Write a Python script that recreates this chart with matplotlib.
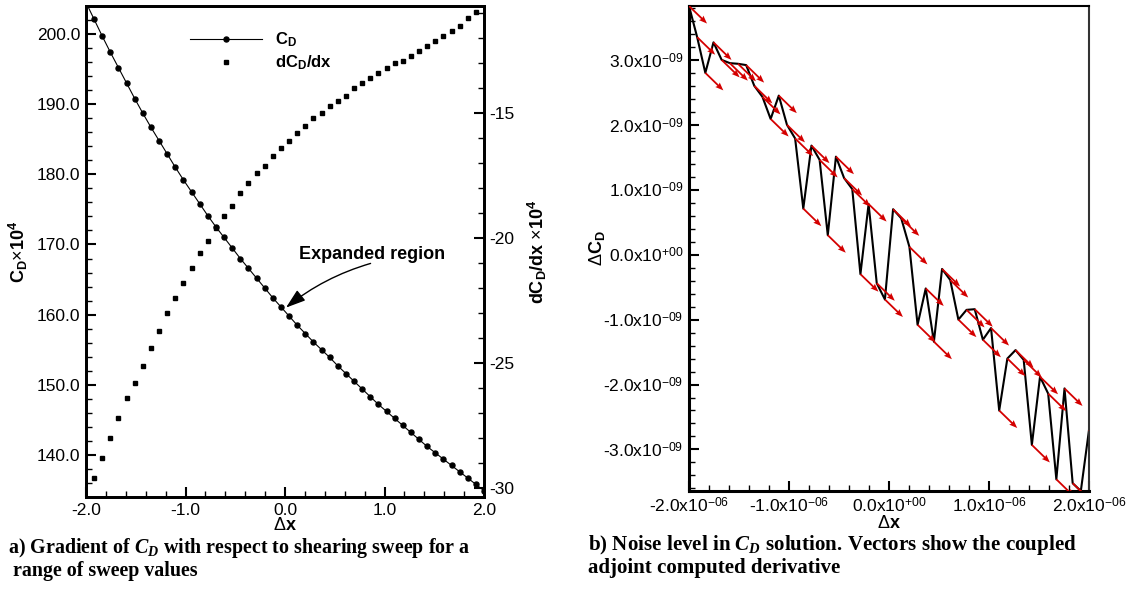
#!/usr/bin/env python3
"""
Drag sweep study: C_D and dC_D/dx over the shearing sweep range,
and the noise level of C_D near dx = 0 with adjoint derivative vectors.
"""

import numpy as np
import matplotlib
matplotlib.use('Agg')
import matplotlib.pyplot as plt
from matplotlib.ticker import MultipleLocator, FormatStrFormatter, FuncFormatter

plt.rcParams['font.family'] = 'Liberation Sans'
plt.rcParams['mathtext.fontset'] = 'custom'
plt.rcParams['mathtext.rm'] = 'Liberation Sans'
plt.rcParams['mathtext.sf'] = 'Liberation Sans'
plt.rcParams['mathtext.bf'] = 'Liberation Sans:bold'
plt.rcParams['mathtext.it'] = 'Liberation Serif:italic:bold'

W, H = 1128, 599

# Sweep values (50 evenly spaced samples)
dx_sweep = np.linspace(-2.0, 2.0, 50)

# C_D x 10^4
cd_sweep = [204.5, 202.1, 199.7, 197.4, 195.2, 193.0, 190.8, 188.7, 186.7, 184.8,
            182.9, 181.0, 179.2, 177.5, 175.8, 174.1, 172.5, 171.0, 169.5, 168.0,
            166.6, 165.2, 163.8, 162.4, 161.1, 159.8, 158.5, 157.3, 156.1, 155.0,
            153.9, 152.7, 151.6, 150.5, 149.4, 148.3, 147.2, 146.2, 145.2, 144.2,
            143.2, 142.2, 141.2, 140.3, 139.4, 138.5, 137.6, 136.7, 135.8, 134.9]

# dC_D/dx x 10^4
dcd_dx = [-30.5, -29.6, -28.8, -28.0, -27.2, -26.4, -25.8, -25.1, -24.4, -23.7,
          -23.0, -22.4, -21.8, -21.2, -20.6, -20.1, -19.6, -19.1, -18.7, -18.2,
          -17.8, -17.4, -17.1, -16.7, -16.4, -16.1, -15.8, -15.5, -15.2, -15.0,
          -14.7, -14.5, -14.3, -14.0, -13.8, -13.6, -13.4, -13.2, -13.0, -12.9,
          -12.7, -12.5, -12.3, -12.1, -11.9, -11.7, -11.5, -11.2, -10.95, -10.5]

# Expanded region around dx = 0
dx_noise = np.linspace(-2.0e-6, 2.0e-6, 50)

# Delta C_D, in units of 1e-9
dcd_noise = [3.83, 3.35, 2.80, 3.27, 3.00, 2.95, 2.94, 2.92, 2.60, 2.43,
             2.09, 2.45, 2.00, 1.79, 0.71, 1.68, 1.46, 0.30, 1.51, 1.18,
             1.01, -0.30, 0.78, -0.44, -0.69, 0.70, 0.56, 0.12, -1.08, -0.52,
             -1.34, -0.22, -0.39, -1.00, -0.85, -0.84, -1.31, -1.13, -2.40, -1.60,
             -1.47, -1.62, -2.93, -1.88, -2.14, -3.46, -2.06, -3.52, -3.64, -2.70]

# Coupled adjoint derivative dC_D/dx at dx = 0
adjoint_slope = -1.5e-3

# Tick positions of the expanded plot
noise_xticks = [-2.0e-6, -1.0e-6, 0.0, 1.0e-6, 2.0e-6]
noise_yticks = [-3.0e-9, -2.0e-9, -1.0e-9, 0.0, 1.0e-9, 2.0e-9, 3.0e-9]


def style_ticks(ax, **kw):
    ax.tick_params(which='both', direction='in', **kw)
    ax.tick_params(which='major', length=7, width=1.5, labelsize=12.5, pad=4)
    ax.tick_params(which='minor', length=4, width=1.0)


def sci_label(v, pos):
    if abs(v) < 1e-15:
        mant, expo = 0.0, 0
    else:
        expo = int(np.floor(np.log10(abs(v)) + 1e-6))
        mant = v / 10.0**expo
    return '%.1fx10$^{\\mathsf{%+03d}}$' % (mant, expo)


def draw_sweep_panel(fig):
    ax = fig.add_axes([86 / W, 1 - 497 / H, 398 / W, 491 / H])
    ax2 = ax.twinx()

    l1, = ax.plot(dx_sweep, cd_sweep, color='k', lw=0.8, marker='o', ms=3.6,
                  label=r'$\mathbf{C_D}$')
    l2, = ax2.plot(dx_sweep, dcd_dx, ls='none', color='k', marker='s', ms=2.6,
                   label=r'$\mathbf{dC_D/dx}$')

    ax.set_xlim(-2.0, 2.0)
    ax.set_ylim(134.0, 204.0)
    ax2.set_ylim(-30.35, -10.7)

    ax.xaxis.set_major_locator(MultipleLocator(1.0))
    ax.xaxis.set_minor_locator(MultipleLocator(0.2))
    ax.yaxis.set_major_locator(MultipleLocator(10.0))
    ax.yaxis.set_minor_locator(MultipleLocator(2.0))
    ax.xaxis.set_major_formatter(FormatStrFormatter('%.1f'))
    ax.yaxis.set_major_formatter(FormatStrFormatter('%.1f'))
    ax2.yaxis.set_major_locator(MultipleLocator(5.0))
    ax2.yaxis.set_minor_locator(MultipleLocator(1.0))
    ax2.yaxis.set_major_formatter(FormatStrFormatter('%d'))

    style_ticks(ax, top=False, right=False)
    style_ticks(ax2, left=False, right=True)
    for a in (ax, ax2):
        for side in a.spines:
            a.spines[side].set_linewidth(2.0)

    ax.set_xlabel(r'$\mathsf{\Delta}\mathbf{x}$', fontsize=13)
    ax.xaxis.set_label_coords(0.5, -0.041)
    ax.set_ylabel(r'$\mathbf{C_D}\mathsf{\times}\mathbf{10^4}$', fontsize=13)
    ax.yaxis.set_label_coords(-0.14, 0.5)
    ax2.set_ylabel(r'$\mathbf{dC_D/dx}$ $\mathsf{\times}\mathbf{10^4}$', fontsize=13)
    ax2.yaxis.set_label_coords(1.105, 0.5)

    ax2.legend(handles=[l1, l2], loc='upper left', bbox_to_anchor=(0.262, 0.95),
               frameon=False, fontsize=12, numpoints=1, handlelength=4.3,
               handletextpad=0.8, labelspacing=0.25, borderpad=0, borderaxespad=0)

    ax2.text(0.874, 167.9, 'Expanded region', fontsize=13, fontweight='bold',
             ha='center', va='baseline', transform=ax.transData)
    ax.annotate('', xy=(0.01, 161.0), xytext=(0.86, 167.3),
                arrowprops=dict(arrowstyle='-|>,head_length=0.6,head_width=0.2',
                                color='k', lw=1.0, mutation_scale=20,
                                shrinkA=0, shrinkB=0,
                                connectionstyle='arc3,rad=0.1'))
    return ax


def draw_noise_panel(fig):
    ax = fig.add_axes([689 / W, 1 - 491 / H, 400 / W, 485 / H])
    y = np.array(dcd_noise) * 1e-9

    ax.plot(dx_noise, y, color='k', lw=1.5, zorder=2)

    # adjoint derivative vectors
    u = np.full_like(dx_noise, 0.18e-6)
    v = adjoint_slope * u
    ax.quiver(dx_noise, y, u, v, angles='xy', scale_units='xy', scale=1,
              color='#d40000', width=0.0045, headwidth=3.5, headlength=4.5,
              headaxislength=4.0, zorder=3)

    ax.set_xlim(-2.0e-6, 2.0e-6)
    ax.set_ylim(y.min(), y.max())

    ax.set_xticks(noise_xticks)
    ax.set_yticks(noise_yticks)
    ax.xaxis.set_minor_locator(MultipleLocator(0.2e-6))
    ax.yaxis.set_minor_locator(MultipleLocator(0.2e-9))
    ax.xaxis.set_major_formatter(FuncFormatter(sci_label))
    ax.yaxis.set_major_formatter(FuncFormatter(sci_label))

    style_ticks(ax, top=False, right=False)
    ax.spines['left'].set_linewidth(2.2)
    ax.spines['bottom'].set_linewidth(2.2)
    ax.spines['top'].set_linewidth(1.5)
    ax.spines['right'].set_linewidth(1.5)
    ax.spines['right'].set_color('#333333')

    ax.set_xlabel(r'$\mathsf{\Delta}\mathbf{x}$', fontsize=13)
    ax.xaxis.set_label_coords(0.5, -0.05)
    ax.set_ylabel(r'$\mathsf{\Delta}\mathbf{C_D}$', fontsize=13)
    ax.yaxis.set_label_coords(-0.205, 0.5)
    return ax


def main():
    fig = plt.figure(figsize=(W / 100, H / 100), dpi=100)

    draw_sweep_panel(fig)
    draw_noise_panel(fig)

    cap = dict(family='Liberation Serif', fontweight='bold', fontsize=14.4,
               va='baseline', ha='left')
    fig.text(8 / W, 1 - 553 / H,
             r'a) Gradient of $\mathit{C_D}$ with respect to shearing sweep for a', **cap)
    fig.text(8 / W, 1 - 576 / H, ' range of sweep values', **cap)
    cap['fontsize'] = 15.1
    fig.text(588 / W, 1 - 550 / H,
             r'b) Noise level in $\mathit{C_D}$ solution. Vectors show the coupled', **cap)
    fig.text(588 / W, 1 - 573 / H, 'adjoint computed derivative', **cap)

    fig.savefig('out.png', dpi=100)
    plt.close(fig)


if __name__ == '__main__':
    main()
